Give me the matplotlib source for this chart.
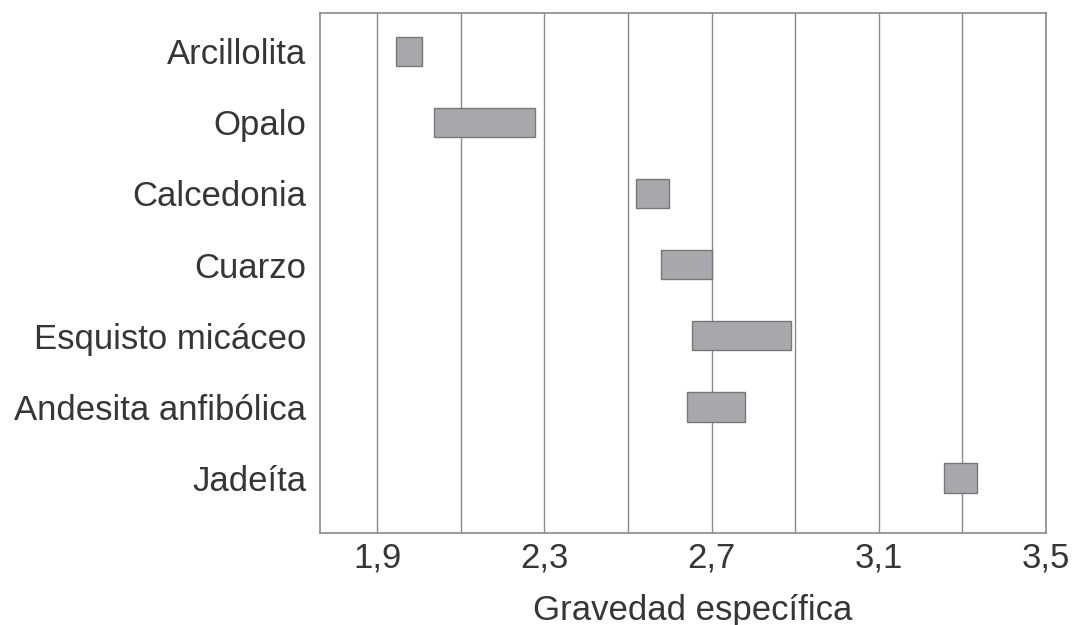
import matplotlib
matplotlib.use("Agg")
import matplotlib.pyplot as plt
from matplotlib.ticker import FixedLocator

plt.rcParams['font.family'] = ['Liberation Sans', 'DejaVu Sans']

minerals = ["Arcillolita", "Opalo", "Calcedonia", "Cuarzo",
            "Esquisto micáceo", "Andesita anfibólica", "Jadeíta"]
sg_min = [1.945, 2.037, 2.52, 2.578, 2.653, 2.641, 3.255]
sg_max = [2.008, 2.279, 2.599, 2.70, 2.891, 2.779, 3.335]
major_ticks = [1.9, 2.3, 2.7, 3.1, 3.5]
major_labels = ["1,9", "2,3", "2,7", "3,1", "3,5"]
minor_ticks = [2.1, 2.5, 2.9, 3.3]

text_color = "#363636"
grid_color = "#8a8a8a"

fig = plt.figure(figsize=(10.74, 6.25), dpi=100)
ax = fig.add_axes([320/1074, (625-533)/625, 726/1074, 520/625])

ypos = list(range(len(minerals)))
widths = [b - a for a, b in zip(sg_min, sg_max)]
ax.barh(ypos, widths, left=sg_min, height=0.41, color="#a7a8ab",
        edgecolor="#777777", linewidth=1.0, zorder=3)

ax.set_xlim(1.7636, 3.5)
ax.set_ylim(6.772, -0.537)

ax.xaxis.set_major_locator(FixedLocator(major_ticks))
ax.xaxis.set_minor_locator(FixedLocator(minor_ticks))
ax.set_xticklabels(major_labels)
ax.set_yticks(ypos)
ax.set_yticklabels(minerals)
ax.tick_params(axis='both', which='both', length=0, labelsize=25,
               labelcolor=text_color)
ax.tick_params(axis='y', pad=10)
ax.tick_params(axis='x', pad=6)
ax.grid(axis='x', which='both', color=grid_color, linewidth=1.0, zorder=0)
ax.set_axisbelow(True)
for s in ax.spines.values():
    s.set_color(grid_color)
    s.set_linewidth(1.2)

fig.text(693/1074, 1 - 620/625, "Gravedad específica", ha='center',
         va='baseline', fontsize=25, color=text_color)

fig.savefig("out.png", dpi=100, facecolor="white")
